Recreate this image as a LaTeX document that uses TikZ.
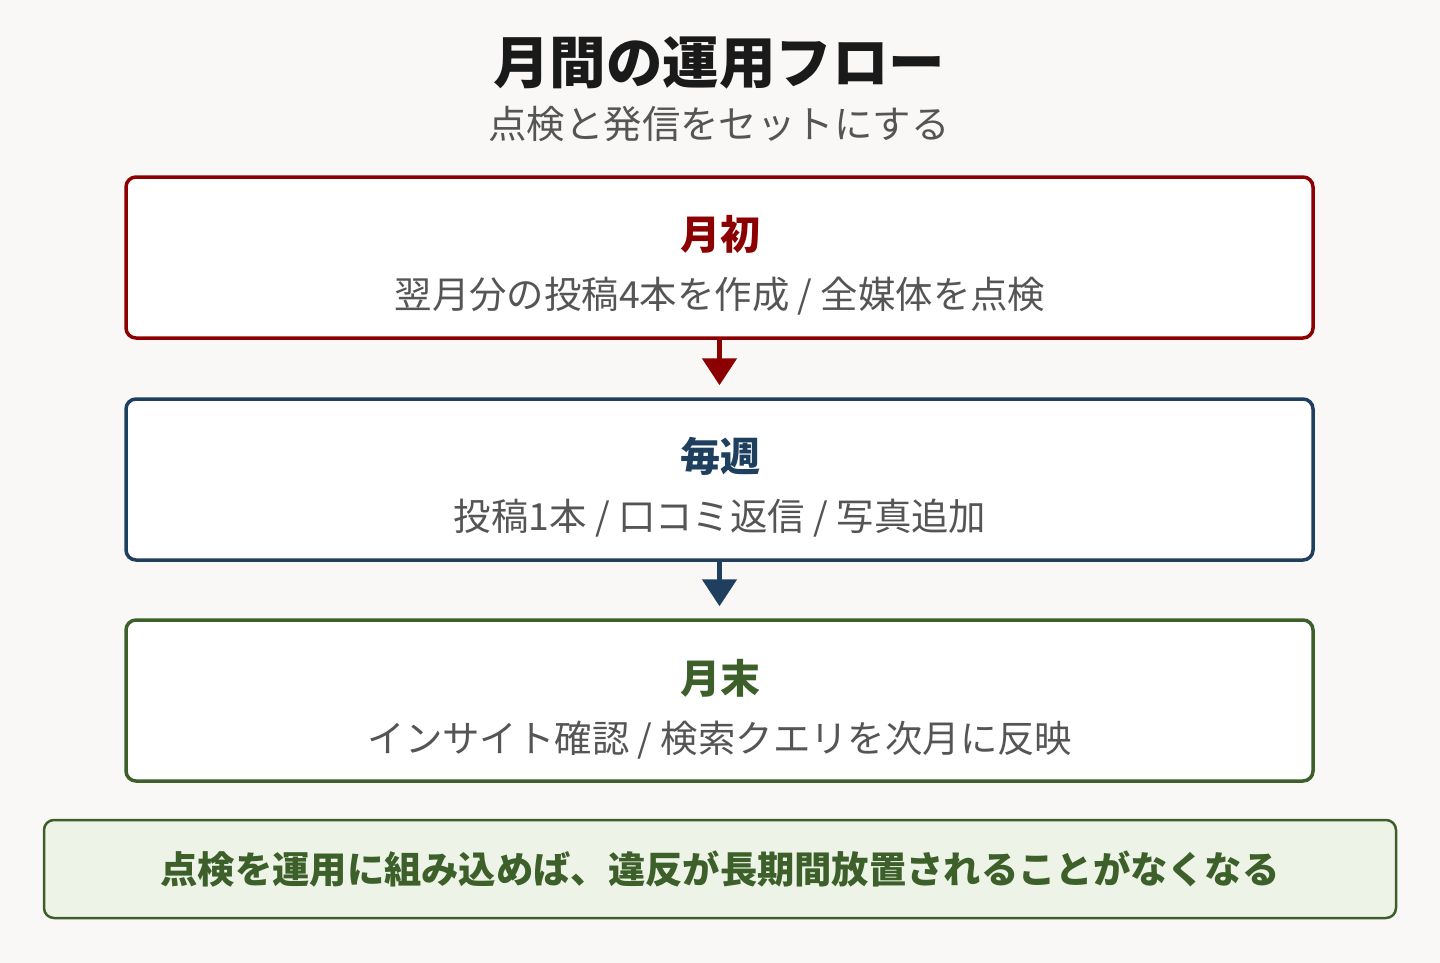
\documentclass[tikz,border=0pt]{standalone}
\usepackage{fontspec}
\setmainfont{Noto Sans CJK JP}
\usetikzlibrary{arrows.meta}
\definecolor{bgc}{HTML}{F9F8F6}
\definecolor{redc}{HTML}{8B0000}
\definecolor{bluec}{HTML}{1F3F5F}
\definecolor{greenc}{HTML}{3D5F2A}
\definecolor{grayc}{HTML}{555555}
\definecolor{titlec}{HTML}{1A1A1A}
\definecolor{notec}{HTML}{EEF3E8}
\tikzset{
  stagebox/.style={draw=#1, line width=3.5pt, fill=white, rounded corners=10pt, minimum width=1187pt, minimum height=161pt, inner sep=0pt},
  stagetitle/.style={text=#1, font=\fontsize{40}{48}\selectfont\bfseries, inner sep=0pt},
  stagetext/.style={text=grayc, font=\fontsize{37.4}{44}\selectfont, inner sep=0pt},
  flowarrow/.style={draw=#1, line width=5pt, -{Triangle[length=27pt, width=34pt]}},
}
\begin{document}
\begin{tikzpicture}[x=1pt, y=-1pt]
\useasboundingbox (0,0) rectangle (1440,963);
\fill[bgc] (0,0) rectangle (1440,963);

\node[inner sep=0pt, text=titlec, font=\fontsize{56.5}{66}\selectfont\bfseries] (title) at (719,63) {月間の運用フロー};
\node[inner sep=0pt, text=grayc, font=\fontsize{38.4}{46}\selectfont] (subtitle) at (719,124) {点検と発信をセットにする};

\node[stagebox=redc] (b1) at (719.5,257.5) {};
\node[stagetitle=redc] (t1) at (720,234) {月初};
\node[stagetext] (s1) at (720,296) {翌月分の投稿4本を作成 / 全媒体を点検};

\node[stagebox=bluec] (b2) at (719.5,479.5) {};
\node[stagetitle=bluec] (t2) at (720,456) {毎週};
\node[stagetext] (s2) at (720,518) {投稿1本 / 口コミ返信 / 写真追加};

\node[stagebox=greenc] (b3) at (719.5,700.5) {};
\node[stagetitle=greenc] (t3) at (720,678) {月末};
\node[stagetext] (s3) at (720,740) {インサイト確認 / 検索クエリを次月に反映};

\draw[flowarrow=redc] (b1.south) -- ([yshift=12pt]b2.north);
\draw[flowarrow=bluec] (b2.south) -- ([yshift=12pt]b3.north);

\node[draw=greenc, line width=2.5pt, fill=notec, rounded corners=10pt, minimum width=1352pt, minimum height=98pt, inner sep=0pt] (note) at (720,869) {};
\node[inner sep=0pt, text=greenc, font=\fontsize{37.3}{44}\selectfont\bfseries] (notetext) at (720,869) {点検を運用に組み込めば、違反が長期間放置されることがなくなる};
\end{tikzpicture}
\end{document}
